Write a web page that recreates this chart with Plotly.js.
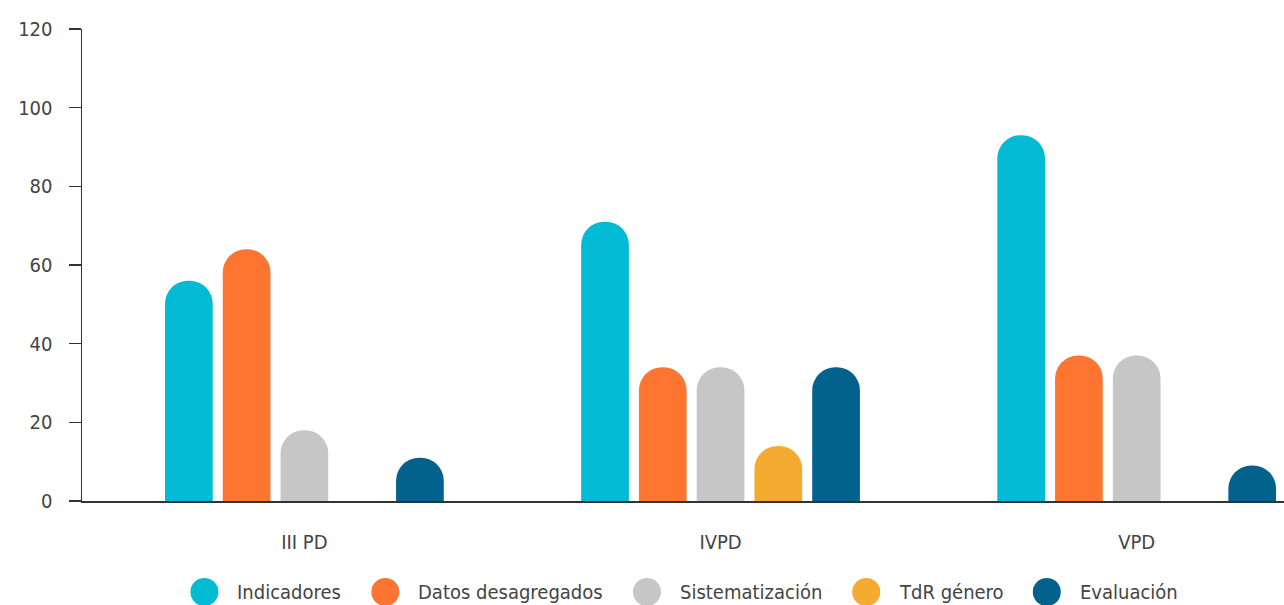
<!DOCTYPE html>
<html><head><meta charset="utf-8">
<script src="https://cdn.plot.ly/plotly-3.0.1.min.js"></script>
<style>html,body{margin:0;padding:0;background:#fff}#chart{width:1284px;height:605px}</style>
</head><body><div id="chart"></div>
<script>
// ---- data ----
const categories = ['III PD', 'IVPD', 'VPD'];
const seriesNames = ['Indicadores', 'Datos desagregados', 'Sistematización', 'TdR género', 'Evaluación'];
const indicadores = [56, 71, 93];
const datosDesagregados = [64, 34, 37];
const sistematizacion = [18, 34, 37];
const tdrGenero = [null, 14, null];
const evaluacion = [11, 34, 9];
const yTickValues = [0, 20, 40, 60, 80, 100, 120];
const seriesColors = ['#00BBD3', '#FE7531', '#C6C6C6', '#F4AB30', '#02628B'];

const seriesValues = [indicadores, datosDesagregados, sistematizacion, tdrGenero, evaluacion];
const FONT = "'Liberation Sans Narrow', 'DejaVu Sans Condensed', sans-serif";
const FSIZE = 20;
const TXT = '#444';

const traces = seriesNames.map((n, i) => ({
  type: 'bar', name: n, x: categories, y: seriesValues[i],
  marker: {color: seriesColors[i], cornerradius: '50%'},
  showlegend: false, hoverinfo: 'x+y+name'
}));

// custom legend with large circles, laid out from measured text widths
const W = 1284, H = 605, ML = 82, MR = 0, MT = 29, MB = 104;
const pw = W - ML - MR, ph = H - MT - MB;
const cv = document.createElement('canvas').getContext('2d');
cv.font = FSIZE + 'px ' + FONT;
const widths = seriesNames.map(s => cv.measureText(s).width);
const R = 14, GAP_T = 31, GAP_N = 46;
let total = R + widths.reduce((a, w) => a + GAP_T + w, 0) + GAP_N * (seriesNames.length - 1);
let c = (ML + (W - MR)) / 2 - total / 2 + R;
const legY = -(592 - (H - MB)) / ph;
const shapes = [], annotations = [];
seriesNames.forEach((s, i) => {
  const xp = (c - ML) / pw;
  shapes.push({type: 'circle', xref: 'paper', yref: 'paper', xsizemode: 'pixel', ysizemode: 'pixel',
    xanchor: xp, yanchor: legY, x0: -R, x1: R, y0: -R, y1: R,
    fillcolor: seriesColors[i], line: {width: 0}});
  annotations.push({xref: 'paper', yref: 'paper', x: (c + GAP_T - ML) / pw, y: legY,
    xanchor: 'left', yanchor: 'middle', text: s, showarrow: false,
    font: {family: FONT, size: FSIZE, color: TXT}});
  c = c + GAP_T + widths[i] + GAP_N;
});

const x0 = -0.5344, x1 = x0 + pw / 416.15;
const layout = {
  width: W, height: H,
  margin: {l: ML, r: MR, t: MT, b: MB, pad: 0},
  paper_bgcolor: '#fff', plot_bgcolor: '#fff',
  font: {family: FONT, size: FSIZE, color: TXT},
  barmode: 'group', bargap: 0.306, bargroupgap: 0.174,
  showlegend: false,
  xaxis: {type: 'category', range: [x0, x1], showline: true, linecolor: '#333', linewidth: 1.5,
    ticks: '', showgrid: false, zeroline: false, ticklabelstandoff: 22,
    tickfont: {family: FONT, size: FSIZE, color: TXT}},
  yaxis: {range: [0, 120], tickvals: yTickValues, showline: true, linecolor: '#333', linewidth: 1.5,
    ticks: 'outside', ticklen: 12, tickwidth: 1.5, tickcolor: '#333', showgrid: false, zeroline: false,
    ticklabelstandoff: 12, tickfont: {family: FONT, size: FSIZE, color: TXT}},
  shapes: shapes, annotations: annotations
};
Plotly.newPlot('chart', traces, layout, {displayModeBar: false, staticPlot: true});
</script></body></html>
